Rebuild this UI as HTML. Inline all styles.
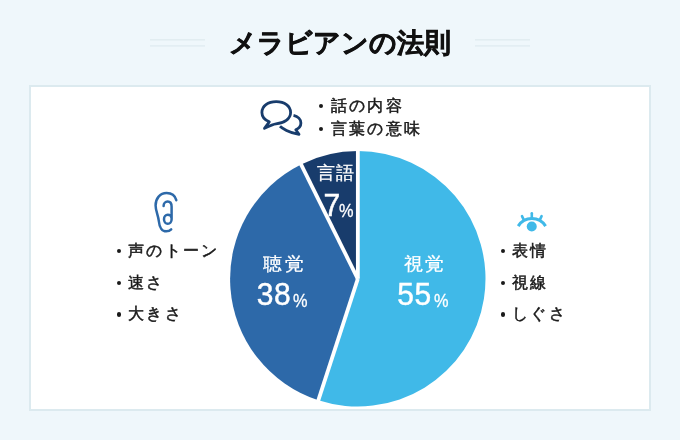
<!DOCTYPE html>
<html>
<head>
<meta charset="utf-8">
<style>
html,body{margin:0;padding:0;}
body{will-change:transform;width:680px;height:440px;background:#eff7fb;position:relative;overflow:hidden;font-family:"Liberation Sans",sans-serif;color:#1a1a1a;}
.abs{position:absolute;white-space:nowrap;}
.title{left:0;width:680px;top:23px;text-align:center;font-size:27px;-webkit-text-stroke:0.6px #111;font-weight:bold;line-height:40px;color:#111;}
.ln{position:absolute;height:1px;background:#dde9ee;width:55px;}
.card{position:absolute;left:29px;top:85px;width:618px;height:322px;border:2px solid #dceaef;background:#fff;}
.t{position:absolute;white-space:nowrap;font-size:15.8px;line-height:15.8px;letter-spacing:2.2px;-webkit-text-stroke:0.5px #1a1a1a;}
.b{position:absolute;width:4.3px;height:4.3px;border-radius:50%;background:#1a1a1a;margin:-2.15px 0 0 -2.15px;}
.lbl{position:absolute;white-space:nowrap;color:#fff;font-size:19px;line-height:19px;letter-spacing:2.3px;transform-origin:0 0;transform:scaleY(0.95);-webkit-text-stroke:0.3px #fff;}
.num{position:absolute;white-space:nowrap;color:#fff;font-size:30px;line-height:30px;letter-spacing:0.6px;transform-origin:0 0;transform:scaleY(1.03);-webkit-text-stroke:0.45px #fff;}
.pc{position:absolute;white-space:nowrap;color:#fff;font-size:19px;line-height:19px;transform-origin:0 0;transform:scaleX(0.86);-webkit-text-stroke:0.3px #fff;}
</style>
</head>
<body>
<div class="abs title">メラビアンの法則</div>
<svg class="abs" style="left:0;top:0" width="680" height="60" viewBox="0 0 680 60">
  <g fill="#e0ecf0">
    <rect x="150" y="39.1" width="55" height="1.4"/>
    <rect x="150" y="45.2" width="55" height="1.4"/>
    <rect x="475" y="39.1" width="55" height="1.4"/>
    <rect x="475" y="45.2" width="55" height="1.4"/>
  </g>
</svg>
<div class="card"></div>

<svg class="abs" style="left:0;top:0" width="680" height="440" viewBox="0 0 680 440">
  <!-- pie -->
  <path d="M357.8 278.8 L357.8 151.1 A127.7 127.7 0 1 1 318.34 400.25 Z" fill="#40b9e8"/>
  <path d="M357.8 278.8 L318.34 400.25 A127.7 127.7 0 0 1 301.02 164.42 Z" fill="#2d69a9"/>
  <path d="M357.8 278.8 L301.02 164.42 A127.7 127.7 0 0 1 357.8 151.1 Z" fill="#183c6c"/>
  <g stroke="#fff" stroke-width="3.8" stroke-linecap="butt">
    <line x1="357.85" y1="278.8" x2="357.85" y2="147"/>
    <line x1="357.8" y1="278.8" x2="317.32" y2="403.39"/>
    <line x1="357.8" y1="278.8" x2="299.55" y2="161.46"/>
  </g>
  <!-- speech bubbles -->
  <g fill="none" stroke="#183c6c" stroke-width="2.8" stroke-linejoin="round">
    <path d="M269.3 121.8 C263 119.3 261.9 115.5 261.9 112.5 C261.9 106 268 101.6 276.2 101.6 C284.5 101.6 290.6 106 290.6 112.5 C290.6 119 284 123.2 276 123.8 C273.5 124 270 125.6 264.5 128.3 Z"/>
    <path d="M293.5 115.4 C298 116.4 300.9 119.5 300.9 123 C300.9 126 299.3 128.2 295.8 129.8 L299 134.3 C294 133.6 289.5 132.2 286.5 130.6 C283.5 129 281.5 127.8 280 126.3"/>
  </g>
  <!-- ear -->
  <g fill="none" stroke="#2d69a9" stroke-width="2.5" stroke-linecap="round">
    <path d="M176.3 200.2 C175 195.5 171 193.1 166.6 193.1 C160 193.1 155.6 198.5 155.6 205.5 C155.6 211 158.3 215.5 158.9 221.5 C159.4 227.5 162.2 231.3 166.2 231.3 C168.3 231.3 170.2 230.4 171.2 229.3"/>
    <path d="M163.6 206 C163.6 203.3 165.4 201.5 167.6 201.5 C170 201.5 171.6 203.5 171.6 206.7 L171.6 219.2 C171.6 221.8 170 223.8 167.8 223.8 C165.6 223.8 164 221.8 164 219.2 C164 216.6 165.6 214.7 167.8 214.7 C170 214.7 171.6 216.4 171.6 218.2"/>
  </g>
  <!-- eye -->
  <g fill="none" stroke="#40b9e8" stroke-width="2.6" stroke-linecap="round">
    <path d="M518.2 226.1 A16.15 16.15 0 0 1 545.6 226.1" stroke-width="3" stroke-linecap="butt"/>
    <line x1="531.8" y1="213.3" x2="531.8" y2="218"/>
    <line x1="522" y1="216.2" x2="523.8" y2="219.8"/>
    <line x1="541.6" y1="216.2" x2="539.8" y2="219.8"/>
  </g>
  <circle cx="531.75" cy="226.5" r="5" fill="#40b9e8"/>
</svg>

<!-- top list -->
<div class="b" style="left:321.2px;top:106.2px"></div>
<div class="b" style="left:321.2px;top:129px"></div>
<div id="top1" class="t" style="left:331px;top:98.1px">話の内容</div>
<div id="top2" class="t" style="left:331px;top:120.9px">言葉の意味</div>

<!-- left list -->
<div class="b" style="left:118.7px;top:251.3px"></div>
<div class="b" style="left:118.7px;top:282.9px"></div>
<div class="b" style="left:118.7px;top:314.5px"></div>
<div id="l1" class="t" style="left:128.3px;top:243.2px">声のトーン</div>
<div id="l2" class="t" style="left:128.3px;top:274.8px">速さ</div>
<div id="l3" class="t" style="left:128.3px;top:306.4px">大きさ</div>

<!-- right list -->
<div class="b" style="left:502.7px;top:251.3px"></div>
<div class="b" style="left:502.7px;top:282.9px"></div>
<div class="b" style="left:502.7px;top:314.5px"></div>
<div id="r1" class="t" style="left:512.3px;top:243.2px">表情</div>
<div id="r2" class="t" style="left:512.3px;top:274.8px">視線</div>
<div id="r3" class="t" style="left:512.3px;top:306.4px">しぐさ</div>

<!-- pie labels -->
<div id="g1" class="lbl" style="left:317px;top:165.3px;font-size:17.8px;line-height:17.8px;letter-spacing:1.2px;transform:none">言語</div>
<div id="g2" class="num" style="left:323.5px;top:189.6px">7</div>
<div id="g3" class="pc" style="left:338.8px;top:201px">%</div>

<div id="c1" class="lbl" style="left:263.3px;top:255px">聴覚</div>
<div id="c2" class="num" style="left:256.8px;top:278.8px">38</div>
<div id="c3" class="pc" style="left:292.9px;top:291px">%</div>

<div id="v1" class="lbl" style="left:403.6px;top:255px">視覚</div>
<div id="v2" class="num" style="left:397.2px;top:279.3px">55</div>
<div id="v3" class="pc" style="left:433.5px;top:291px">%</div>
</body>
</html>
